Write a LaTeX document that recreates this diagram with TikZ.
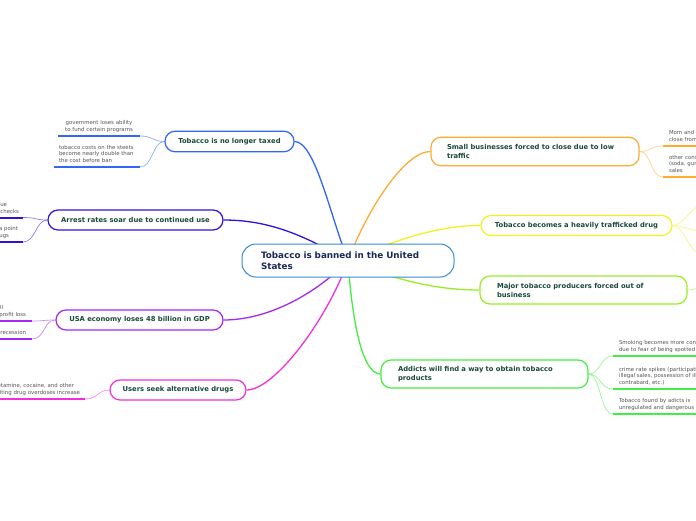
\documentclass[tikz,border=0pt]{standalone}
\usepackage{fontspec}
\setmainfont{DejaVu Sans}
\usetikzlibrary{backgrounds}
\definecolor{cRoot}{HTML}{3A8AD0}
\definecolor{cRootTxt}{HTML}{1B2A55}
\definecolor{cTxt}{HTML}{1A4A3A}
\definecolor{cLeaf}{HTML}{555555}
\definecolor{cBlue}{HTML}{3366F5}
\definecolor{cViolet}{HTML}{3311DD}
\definecolor{cPurple}{HTML}{A428F0}
\definecolor{cMagenta}{HTML}{F030E0}
\definecolor{cOrange}{HTML}{FFAA33}
\definecolor{cYellow}{HTML}{F2F222}
\definecolor{cLime}{HTML}{99EE22}
\definecolor{cGreen}{HTML}{44EE44}
\newcommand{\lstrut}{\rule[-1.4pt]{0pt}{1pt}}
\begin{document}
\begin{tikzpicture}[x=1pt,y=-1pt,
  root/.style={draw=cRoot, line width=1pt, fill=white, rounded corners=14pt,
    minimum height=33pt, inner xsep=19pt, inner ysep=0pt, text width=174pt, align=left,
    font=\bfseries\fontsize{8.8}{11}\selectfont, text=cRootTxt},
  topic/.style={draw=#1, line width=1.2pt, fill=white, rounded corners=10pt,
    font=\bfseries\fontsize{6.8}{9}\selectfont, text=cTxt, inner sep=0pt},
  leafL/.style={anchor=south west, font=\fontsize{5.4}{6.8}\selectfont, text=cLeaf,
    inner xsep=6pt, inner ysep=3pt, outer sep=0pt, align=left},
  leafR/.style={anchor=south east, font=\fontsize{5.4}{6.8}\selectfont, text=cLeaf,
    inner xsep=4pt, inner ysep=3pt, outer sep=0pt, align=right},
  uline/.style={draw=#1, line width=2pt},
  lcon/.style={draw=#1!55, line width=0.7pt},
  mcon/.style={draw=#1, line width=1.3pt}
]
\useasboundingbox (0,0) rectangle (696,520);
\clip (0,0) rectangle (696,520);

% root
\node[root] (root) at (348,260.5) {Tobacco is banned in the United\\States};

% topics
\node[topic=cBlue, minimum width=129pt, minimum height=20.5pt] (taxed) at (229.5,141.5) {Tobacco is no longer taxed};
\node[topic=cViolet, minimum width=175pt, minimum height=20pt] (arrest) at (135.5,220) {Arrest rates soar due to continued use};
\node[topic=cPurple, minimum width=167pt, minimum height=20pt] (usa) at (139.5,320) {USA economy loses 48 billion in GDP};
\node[topic=cMagenta, minimum width=136pt, minimum height=20pt] (users) at (178,390) {Users seek alternative drugs};
\node[topic=cOrange, minimum height=28.5pt, inner xsep=16pt, text width=176pt, align=left] (biz) at (535,151.5) {Small businesses forced to close due to low\\traffic};
\node[topic=cYellow, minimum width=191pt, minimum height=20pt] (traf) at (576.5,225.5) {Tobacco becomes a heavily trafficked drug};
\node[topic=cLime, minimum height=28pt, inner xsep=17pt, text width=173pt, align=left] (major) at (583.5,290) {Major tobacco producers forced out of\\business};
\node[topic=cGreen, minimum height=28pt, inner xsep=17pt, text width=173pt, align=left] (addicts) at (484.5,374) {Addicts will find a way to obtain tobacco\\products};

% leaves
\node[leafL, inner xsep=3pt, text width=76pt, align=center] (tx1) at (58,136) {government loses ability\\to fund certain programs\lstrut};
\node[leafL, inner xsep=5pt, text width=76pt] (tx2) at (54,167) {tobacco costs on the steets\\become nearly double than\\the cost before ban\lstrut};

\node[leafR, text width=110pt] (ar1) at (23,217.5) {police resources drained due\rule{12pt}{0pt}\\to increased random checks\lstrut};
\node[leafR, text width=110pt] (ar2) at (23,242) {black market becomes a point\rule{1pt}{0pt}\\of entry for other drugs\rule{10pt}{0pt}\lstrut};

\node[leafR, text width=110pt] (us1) at (32,321) {tobacco companies and small\rule{25pt}{0pt}\\businesses face profit loss\rule{2pt}{0pt}\lstrut};
\node[leafR, text width=110pt] (us2) at (32,339) {economy goes into a recession\rule{2pt}{0pt}\lstrut};

\node[leafR, text width=170pt] (usr1) at (85,399) {Users turn to methamphetamine, cocaine, and other\rule{7pt}{0pt}\\harder drugs, resulting drug overdoses increase\rule{1pt}{0pt}\lstrut};

\node[leafL, text width=100pt] (sb1) at (663,146) {Mom and pop shops\\close from lack of sales\lstrut};
\node[leafL, text width=100pt] (sb2) at (663,177) {other consumable goods\\(soda, gum, snacks) lose\\sales\lstrut};

\node[leafL, text width=110pt] (ad1) at (613,356) {Smoking becomes more concealed\\due to fear of being spotted\lstrut};
\node[leafL, text width=110pt] (ad2) at (613,389) {crime rate spikes (participation in\\illegal sales, possession of illegal\\contrabard, etc.)\lstrut};
\node[leafL, text width=110pt] (ad3) at (613,414) {Tobacco found by adicts is\\unregulated and dangerous\lstrut};

\coordinate (tr1) at (705,204);
\coordinate (tr2) at (706,232);
\coordinate (tr3) at (702,254);
\coordinate (mj1) at (712,285);

% underlines
\foreach \n/\c in {tx1/cBlue,tx2/cBlue,ar1/cViolet,ar2/cViolet,us1/cPurple,us2/cPurple,usr1/cMagenta,sb1/cOrange,sb2/cOrange,ad1/cGreen,ad2/cGreen,ad3/cGreen}
  \draw[uline=\c] (\n.south west) -- (\n.south east);

\begin{pgfonlayer}{background}
\fill[white] (0,0) rectangle (696,520);
% main connectors
\draw[mcon=cBlue] (taxed.east) .. controls (315,141.5) and (330,215) .. (root.center);
\draw[mcon=cOrange] (biz.west) .. controls (405,151.5) and (368,208) .. (root.center);
\draw[mcon=cYellow] (traf.west) .. controls (440,225.5) and (400,238) .. (root.center);
\draw[mcon=cLime] (major.west) .. controls (440,290) and (400,282) .. (root.center);
\draw[mcon=cGreen] (addicts.west) .. controls (362,374) and (352,320) .. (root.center);
\draw[mcon=cViolet] (arrest.east) .. controls (270,220) and (305,236) .. (root.center);
\draw[mcon=cPurple] (usa.east) .. controls (270,320) and (318,292) .. (root.center);
\draw[mcon=cMagenta] (users.east) .. controls (275,390) and (328,318) .. (root.center);
% leaf connectors
\draw[lcon=cBlue] (tx1.south east) .. controls +(13,0) and +(-12,0) .. (taxed.west);
\draw[lcon=cBlue] (tx2.south east) .. controls +(13,0) and +(-12,0) .. (taxed.west);
\draw[lcon=cViolet] (ar1.south east) .. controls +(13,0) and +(-12,0) .. (arrest.west);
\draw[lcon=cViolet] (ar2.south east) .. controls +(13,0) and +(-12,0) .. (arrest.west);
\draw[lcon=cPurple] (us1.south east) .. controls +(13,0) and +(-12,0) .. (usa.west);
\draw[lcon=cPurple] (us2.south east) .. controls +(13,0) and +(-12,0) .. (usa.west);
\draw[lcon=cMagenta] (usr1.south east) .. controls +(13,0) and +(-12,0) .. (users.west);
\draw[lcon=cOrange] (biz.east) .. controls +(12,0) and +(-13,0) .. (sb1.south west);
\draw[lcon=cOrange] (biz.east) .. controls +(12,0) and +(-13,0) .. (sb2.south west);
\draw[lcon=cGreen] (addicts.east) .. controls +(12,0) and +(-13,0) .. (ad1.south west);
\draw[lcon=cGreen] (addicts.east) .. controls +(12,0) and +(-13,0) .. (ad2.south west);
\draw[lcon=cGreen] (addicts.east) .. controls +(12,0) and +(-13,0) .. (ad3.south west);
\draw[lcon=cYellow] (traf.east) .. controls +(12,0) and +(-13,0) .. (tr1);
\draw[lcon=cYellow] (traf.east) .. controls +(12,0) and +(-13,0) .. (tr2);
\draw[lcon=cYellow] (traf.east) .. controls +(12,0) and +(-13,0) .. (tr3);
\draw[lcon=cLime] (major.east) .. controls +(12,0) and +(-13,0) .. (mj1);
\end{pgfonlayer}
\end{tikzpicture}
\end{document}
